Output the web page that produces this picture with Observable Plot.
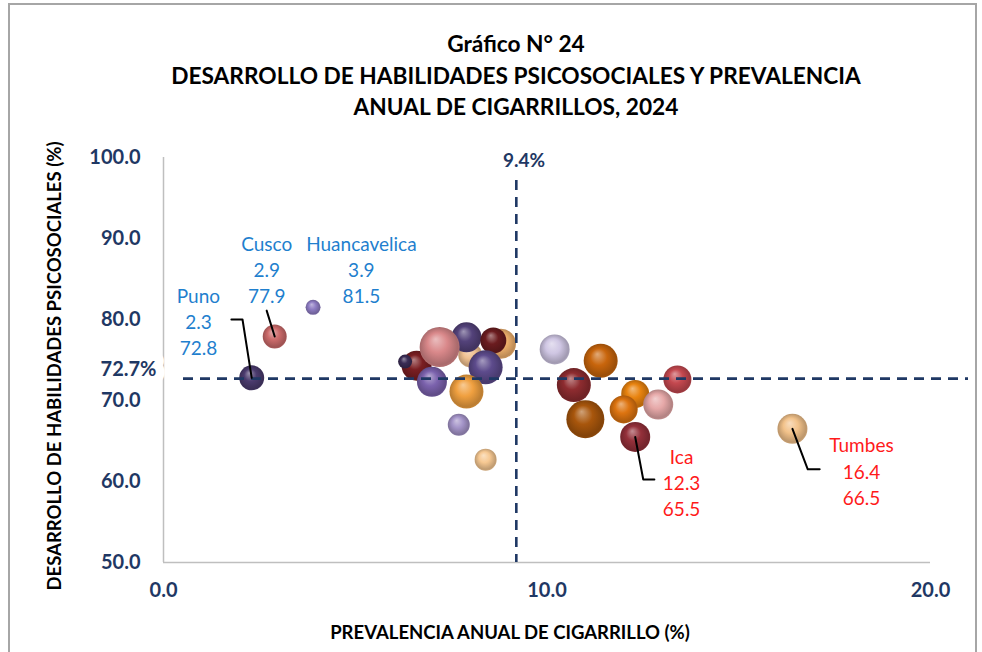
<!DOCTYPE html>
<html><head><meta charset="utf-8">
<script src="https://cdn.jsdelivr.net/npm/d3@7"></script>
<script src="https://cdn.jsdelivr.net/npm/@observablehq/plot@0.6"></script>
<style>
body{margin:0;background:#fff;font-family:Lato,"Noto Sans",sans-serif;}
#frame{position:absolute;left:8px;top:3px;width:969px;height:700px;border:2px solid #a6a6a6;box-sizing:border-box;}
#title{position:absolute;left:50px;width:932px;top:28px;text-align:center;font-weight:bold;font-size:22.7px;line-height:31.5px;color:#000;}
#chart{position:absolute;left:0;top:140px;}
</style></head><body>
<div id="frame"></div>
<div id="title">Gráfico N° 24<br>DESARROLLO DE HABILIDADES PSICOSOCIALES Y PREVALENCIA<br>ANUAL DE CIGARRILLOS, 2024</div>
<div id="chart"></div>
<script>
// ---- data ----
const regiones = ["Puno","Cusco","Huancavelica","","","","","","","","","","","","","","","","","","","","","Ica","Tumbes"];
const prevalencia = [2.3,2.9,3.9,8.8,8.0,7.9,6.6,7.0,7.2,6.3,8.6,8.4,7.9,7.7,8.4,10.2,11.4,11.0,10.7,13.4,12.3,12.0,12.9,12.3,16.4];
const habilidades = [72.8,77.9,81.5,77.0,75.6,77.8,74.3,72.3,76.6,74.8,77.4,74.1,71.1,67.0,62.7,76.3,74.9,67.7,71.9,72.6,70.8,68.9,69.5,65.5,66.5];
const peso = [156,144,56,225,144,225,225,225,400,49,169,289,289,121,121,225,289,361,289,196,196,196,225,225,225];
const xTicks = [0,10,20];
const yTicks = [50,60,70,80,90,100];
const promedioY = 72.7;
const lineaX = 9.2;
const promedioXEtiqueta = 9.4;

// ---- styles / annotation layout ----
const paleta = ["#4b3b6e","#cc6b6b","#8e7cc3","#f2b36d","#f0c090","#53427a","#7a1e22","#7b62ad","#d9888a","#3a2c55","#6b1c1f","#5d4b8c","#f0a040","#a494c8","#f6c892","#cfc6e3","#c8650c","#a8560c","#8e2c30","#c4484f","#e8830f","#dd7410","#e6a8a8","#94303a","#f2c28a"];
const etiquetas = [
  {nombre:"Puno", lx:0.91, ly:79.9, color:"#1f7fce", guia:[[2.06,80.0],[1.77,80.0]]},
  {nombre:"Cusco", lx:2.69, ly:86.3, color:"#1f7fce", guia:[[2.69,81.1]]},
  {nombre:"Huancavelica", lx:5.16, ly:86.3, color:"#1f7fce", guia:null},
  {nombre:"Ica", lx:13.51, ly:60.0, color:"#ff1a1a", guia:[[12.51,60.25],[12.80,60.25]]},
  {nombre:"Tumbes", lx:18.2, ly:61.4, color:"#ff1a1a", guia:[[16.80,61.5],[17.11,61.5]]}
];

const datos = regiones.map((n,i)=>({n, x:prevalencia[i], y:habilidades[i], s:peso[i], c:paleta[i]}));
const labData = etiquetas.map(e=>{
  const d = datos.find(v=>v.n===e.nombre);
  return {...e, texto:`${e.nombre}\n${d.x.toFixed(1)}\n${d.y.toFixed(1)}`, d};
});
const guias = [];
labData.forEach((e,k)=>{ if(e.guia){ guias.push({k, x:e.d.x, y:e.d.y}); e.guia.forEach(p=>guias.push({k, x:p[0], y:p[1]})); }});

const navy = "#1f3864";
const chart = Plot.plot({
  width:982, height:512,
  marginLeft:163, marginRight:52, marginTop:17, marginBottom:90,
  style:{fontFamily:"Lato, 'Noto Sans', sans-serif", background:"transparent", overflow:"visible"},
  x:{domain:[0,20]},
  y:{domain:[50,100]},
  r:{type:"sqrt", domain:[0,400], range:[0,20]},
  color:{type:"identity"},
  marks:[
    Plot.ruleX([0],{stroke:"#bfbfbf", strokeWidth:1.5}),
    Plot.ruleY([50],{stroke:"#bfbfbf", strokeWidth:1.5}),
    Plot.axisY({ticks:yTicks, tickSize:0, tickPadding:23, tickFormat:d=>d.toFixed(1), fontSize:20, fontWeight:"bold", fill:navy, label:null}),
    Plot.axisX({ticks:xTicks, tickSize:0, tickPadding:20, tickFormat:d=>d.toFixed(1), fontSize:20, fontWeight:"bold", fill:navy, label:null}),
    Plot.dot(datos,{x:"x", y:"y", r:"s", fill:"c", sort:null}),
    Plot.ruleY([promedioY],{stroke:navy, strokeWidth:2.6, strokeDasharray:"10,7", insetLeft:20, insetRight:-38}),
    Plot.ruleX([lineaX],{stroke:navy, strokeWidth:2.6, strokeDasharray:"10,7", insetTop:23}),
    Plot.text([promedioY],{x:0, y:d=>d, text:d=>d.toFixed(1)+"%", textAnchor:"end", dx:-7, dy:-9, fontSize:20, fontWeight:"bold", fill:navy, stroke:"white", strokeWidth:18, paintOrder:"stroke"}),
    Plot.text([promedioXEtiqueta],{x:d=>d, y:100, text:d=>d.toFixed(1)+"%", dy:3, fontSize:19, fontWeight:"bold", fill:navy}),
    Plot.line(guias,{x:"x", y:"y", z:"k", stroke:"black", strokeWidth:2, curve:"linear"}),
    Plot.text(labData,{x:"lx", y:"ly", text:"texto", fill:"color", fontSize:19, lineHeight:1.37}),
    Plot.text(["PREVALENCIA ANUAL DE CIGARRILLO (%)"],{frameAnchor:"bottom", textAnchor:"middle", dx:-37, dy:76, fontSize:18.5, fontWeight:"bold", fill:"black"}),
    Plot.text(["DESARROLLO DE HABILIDADES PSICOSOCIALES (%)"],{frameAnchor:"left", textAnchor:"middle", lineAnchor:"middle", dx:-108, dy:6, rotate:-90, fontSize:18.5, fontWeight:"bold", fill:"black"})
  ]
});

// 3-D bubble shading via radial gradients
const sel = d3.select(chart);
const defs = sel.insert("defs", ":first-child");
let gi = 0;
sel.selectAll("circle").each(function(){
  const c = this.getAttribute("fill");
  if(!c || c.startsWith("url")) return;
  const base = d3.color(c);
  const id = "bub"+(gi++);
  const g = defs.append("radialGradient").attr("id",id).attr("cx","50%").attr("cy","50%").attr("r","55%").attr("fx","40%").attr("fy","30%");
  g.append("stop").attr("offset","0%").attr("stop-color", d3.interpolateRgb(base.formatHex(), "#ffffff")(0.45));
  g.append("stop").attr("offset","45%").attr("stop-color", base.formatHex());
  g.append("stop").attr("offset","85%").attr("stop-color", base.darker(0.7).formatHex());
  g.append("stop").attr("offset","100%").attr("stop-color", base.darker(0.4).formatHex());
  this.setAttribute("fill", `url(#${id})`);
});
document.getElementById("chart").appendChild(chart);
</script>
</body></html>
